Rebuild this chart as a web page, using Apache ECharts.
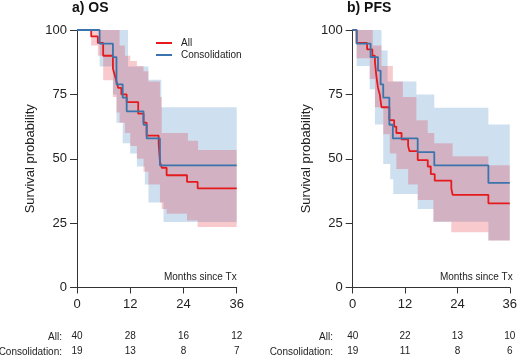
<!DOCTYPE html>
<html>
<head>
<meta charset="utf-8">
<script src="https://cdn.jsdelivr.net/npm/echarts@6/dist/echarts.min.js"></script>
<style>
  html, body { margin: 0; padding: 0; background: #fff; }
  #chart { width: 520px; height: 356px; }
</style>
</head>
<body>
<div id="chart"></div>
<script>
// x ticks (months) and risk table
var monthTicks = [0, 12, 24, 36];
var osRiskAll = [40, 28, 16, 12];
var osRiskCon = [19, 13, 8, 7];
var pfsRiskAll = [40, 22, 13, 10];
var pfsRiskCon = [19, 11, 8, 6];

// a) OS - step curves (time in months, survival %)
var osAllT = [0, 3.2, 4.7, 5.9, 8.1, 8.5, 8.9, 9.3, 10.0, 11.2, 13.8, 15.0, 15.7, 18.4, 18.7, 19.1, 20.2, 24.8, 27.2, 36];
var osAllS = [100, 97.5, 95, 90, 85, 82.5, 80, 77.5, 75, 72, 67.5, 64, 59, 56, 48.8, 46.5, 43.6, 41, 38.5, 38.5];
var osConT = [0, 5.1, 8.1, 8.9, 10.3, 11.2, 15.0, 15.7, 18.7, 36];
var osConS = [100, 94.7, 89.5, 78.9, 73.7, 68.4, 63.2, 57.9, 47.4, 47.4];

// a) OS - confidence bands
var osAllHiT = [0, 9.6, 10.8, 12.0, 13.5, 15.0, 16.1, 18.7, 19.1, 25.0, 27.3];
var osAllHi = [100, 94, 90, 88, 86, 84, 80, 74, 60, 57, 53.4];
var osAllLoT = [0, 3.2, 4.7, 5.9, 8.1, 8.9, 9.6, 10.8, 12.0, 13.5, 15.0, 16.1, 18.7, 19.1, 20.2, 24.8, 27.2];
var osAllLo = [100, 94, 90, 80.5, 74, 68, 64, 60, 55, 50, 45, 40, 33, 30.5, 28.6, 26, 23.5];
var osConHiT = [0, 11.5, 16.1, 19.0];
var osConHi = [100, 85.8, 80.7, 70];
var osConLoT = [0, 5.1, 8.1, 8.9, 10.3, 12.0, 13.5, 15.3, 16.1, 19.5];
var osConLo = [100, 85.8, 75, 64, 56, 52, 47, 40, 33, 25.4];

// b) PFS - step curves
var pfsAllT = [0, 0.9, 3.3, 4.5, 5.1, 5.4, 5.8, 6.2, 6.6, 8.4, 9.5, 10.0, 11.2, 12.7, 13.0, 14.9, 17.2, 17.9, 18.8, 22.6, 22.9, 31.1, 36];
var pfsAllS = [100, 95, 92.5, 90, 87.5, 82.5, 77.5, 75, 70, 65, 62.5, 60, 57.5, 55, 53, 49.5, 47, 44, 41.5, 38.5, 36, 32.7, 32.7];
var pfsConT = [0, 0.9, 4.1, 5.8, 6.4, 7.0, 8.4, 9.2, 14.9, 18.7, 31.1, 36];
var pfsConS = [100, 94.7, 89.5, 84.2, 78.9, 73.7, 63.2, 57.9, 52.6, 47.4, 40.6, 40.6];

// b) PFS - confidence bands
var pfsAllHiT = [0, 4.6, 6.6, 9.2, 11.5, 14.6, 17.2, 18.7, 22.9, 31.1];
var pfsAllHi = [100, 94, 86, 80, 74, 65, 60, 56, 51, 47.5];
var pfsAllLoT = [0, 0.9, 3.9, 5.1, 7.0, 8.5, 10.0, 12.7, 14.9, 18.5, 22.6, 31.1];
var pfsAllLo = [100, 89, 81, 70, 59.5, 52, 46, 40, 34, 25.5, 21.5, 18.3];
var pfsConHiT = [0, 6.6, 8.0, 14.6, 18.7, 31.1];
var pfsConHi = [100, 92, 80, 75, 69.8, 63.3];
var pfsConLoT = [0, 0.9, 3.9, 5.1, 7.0, 8.6, 9.3, 14.9, 18.5, 31.1];
var pfsConLo = [100, 86, 77, 63.3, 48, 42, 36.3, 30.5, 25.5, 18.3];

var END = 36;
var RED = '#e41a1c', BLUE = '#3b74ad';
var RED_BAND = 'rgba(227,35,51,0.24)', BLUE_BAND = 'rgba(59,131,195,0.25)';
var FONT = 'Liberation Sans, Arial, sans-serif';

var chart = echarts.init(document.getElementById('chart'));

function pairs(t, s) {
    return t.map(function (v, i) { return [v, s[i]]; });
}

// one polygon per band: upper steps forward, lower steps back
function band(g, hiT, hi, loT, lo, color) {
    return {
        type: 'custom',
        xAxisIndex: g, yAxisIndex: g,
        silent: true,
        data: pairs(hiT, hi),
        encode: {x: 0, y: 1},
        renderItem: function (params, api) {
            if (params.dataIndex !== 0) return null;
            var pts = [], i;
            for (i = 0; i < hiT.length; i++) {
                var n = i < hiT.length - 1 ? hiT[i + 1] : END;
                pts.push(api.coord([hiT[i], hi[i]]));
                pts.push(api.coord([n, hi[i]]));
            }
            for (i = loT.length - 1; i >= 0; i--) {
                var m = i < loT.length - 1 ? loT[i + 1] : END;
                pts.push(api.coord([m, lo[i]]));
                pts.push(api.coord([loT[i], lo[i]]));
            }
            return {type: 'polygon', shape: {points: pts}, style: {fill: color}};
        }
    };
}

function curve(g, name, t, s, color) {
    return {
        type: 'line', name: name,
        xAxisIndex: g, yAxisIndex: g,
        step: 'end', symbol: 'none',
        data: pairs(t, s),
        lineStyle: {color: color, width: 1.8},
        itemStyle: {color: color}
    };
}

function mainX(g) {
    return {
        gridIndex: g, type: 'value', min: 0, max: 36, interval: 12,
        axisLine: {show: true, lineStyle: {color: '#333', width: 1}},
        axisTick: {show: true, length: 6, lineStyle: {color: '#333'}},
        axisLabel: {fontSize: 13, margin: 10, color: '#222', fontFamily: FONT},
        splitLine: {show: false}
    };
}

function riskX(g, counts, off) {
    return {
        gridIndex: g, type: 'value', min: 0, max: 36, interval: 12,
        position: 'bottom', offset: off,
        axisLine: {show: false}, axisTick: {show: false},
        axisLabel: {
            fontSize: 10, margin: 8, color: '#222', fontFamily: FONT,
            formatter: function (v) { return counts[monthTicks.indexOf(v)]; }
        },
        splitLine: {show: false}
    };
}

function mainY(g) {
    return {
        gridIndex: g, type: 'value', min: 0, max: 100, interval: 25,
        name: 'Survival probability', nameLocation: 'middle', nameGap: 40,
        nameTextStyle: {fontSize: 13, color: '#222', fontFamily: FONT},
        axisLine: {show: true, lineStyle: {color: '#333', width: 1}},
        axisTick: {show: true, length: 7, lineStyle: {color: '#333'}},
        axisLabel: {fontSize: 13, margin: 10, color: '#222', fontFamily: FONT},
        splitLine: {show: false}
    };
}

function txt(x, y, s, align, size) {
    return {
        type: 'text', x: x, y: y,
        style: {text: s, fill: '#222', font: size + 'px ' + FONT, textAlign: align, textVerticalAlign: 'middle'}
    };
}

var option = {
    animation: false,
    backgroundColor: '#fff',
    title: [
        {text: 'a) OS', left: 72, top: 1, padding: 0, textStyle: {fontSize: 14, fontWeight: 'bold', color: '#111', fontFamily: FONT}},
        {text: 'b) PFS', left: 347, top: 1, padding: 0, textStyle: {fontSize: 14, fontWeight: 'bold', color: '#111', fontFamily: FONT}}
    ],
    legend: {
        data: ['All', 'Consolidation'],
        orient: 'vertical', left: 156, top: 38, padding: 0,
        icon: 'rect', itemWidth: 16, itemHeight: 2, itemGap: 2,
        textStyle: {fontSize: 10, lineHeight: 10, color: '#222', fontFamily: FONT, padding: [0, 0, 0, 4]}
    },
    grid: [
        {left: 77, top: 30, width: 159.7, height: 259},
        {left: 352.7, top: 30, width: 160, height: 259}
    ],
    xAxis: [mainX(0), mainX(1),
        riskX(0, osRiskAll, 35.5), riskX(1, pfsRiskAll, 35.5),
        riskX(0, osRiskCon, 50.5), riskX(1, pfsRiskCon, 50.5)],
    yAxis: [mainY(0), mainY(1)],
    graphic: [
        txt(236.7, 277.5, 'Months since Tx', 'right', 10),
        txt(512.7, 277.5, 'Months since Tx', 'right', 10),
        txt(62, 337, 'All:', 'right', 10),
        txt(62, 352, 'Consolidation:', 'right', 10),
        txt(333, 337, 'All:', 'right', 10),
        txt(333, 352, 'Consolidation:', 'right', 10)
    ],
    series: [
        band(0, osConHiT, osConHi, osConLoT, osConLo, BLUE_BAND),
        band(0, osAllHiT, osAllHi, osAllLoT, osAllLo, RED_BAND),
        band(1, pfsConHiT, pfsConHi, pfsConLoT, pfsConLo, BLUE_BAND),
        band(1, pfsAllHiT, pfsAllHi, pfsAllLoT, pfsAllLo, RED_BAND),
        curve(0, 'All', osAllT, osAllS, RED),
        curve(0, 'Consolidation', osConT, osConS, BLUE),
        curve(1, 'All', pfsAllT, pfsAllS, RED),
        curve(1, 'Consolidation', pfsConT, pfsConS, BLUE)
    ]
};

chart.setOption(option);
</script>
</body>
</html>
